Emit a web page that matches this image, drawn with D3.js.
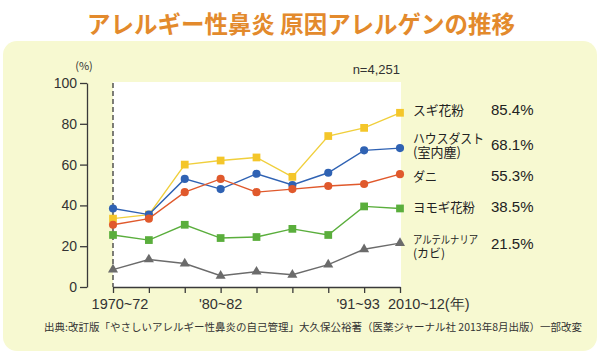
<!DOCTYPE html>
<html>
<head>
<meta charset="utf-8">
<script src="https://cdn.jsdelivr.net/npm/d3@7"></script>
<style>
  body { margin: 0; background: #fff; }
  svg { display: block; font-family: "Noto Sans CJK JP", "Noto Sans", sans-serif; }
</style>
</head>
<body>
<svg id="chart"></svg>
<script>
// survey periods (9 surveys), only some are labelled
const periods = ["1970~72", "1973~75", "1976~78", "'80~82", "1983~85", "1986~88", "1989~90", "'91~93", "2010~12"];
const shownPeriods = ["1970~72", "'80~82", "'91~93", "2010~12"];
const yTicks = [0, 20, 40, 60, 80, 100];

const seriesNames = ["スギ花粉", "ハウスダスト", "ダニ", "ヨモギ花粉", "アルテルナリア"];
const sugi    = [33.5, 35.5, 60, 62, 63.5, 54, 74, 78, 85.4];
const house   = [38.5, 35.5, 53, 48, 55.5, 50, 56, 67, 68.1];
const dani    = [30.5, 33.5, 46.5, 53, 46.5, 48, 49.5, 50.5, 55.3];
const yomogi  = [25.5, 23, 30.5, 24, 24.5, 28.5, 25.5, 39.5, 38.5];
const alter   = [8.5, 13.5, 11.5, 5.5, 7.5, 6, 11, 18.5, 21.5];
const latestText = ["85.4%", "68.1%", "55.3%", "38.5%", "21.5%"];

const W = 600, H = 354;
const svg = d3.select("#chart").attr("width", W).attr("height", H);

// page panel
svg.append("rect")
  .attr("x", 3).attr("y", 41).attr("width", 594).attr("height", 310)
  .attr("rx", 14).attr("fill", "#f7f9d1");

svg.append("text")
  .attr("x", 301).attr("y", 33)
  .attr("text-anchor", "middle")
  .attr("font-size", 24).attr("font-weight", "bold")
  .attr("fill", "#e38a2c")
  .attr("textLength", 428).attr("lengthAdjust", "spacingAndGlyphs")
  .text("アレルギー性鼻炎 原因アレルゲンの推移");

const x = d3.scalePoint().domain(periods).range([113, 400]);
const y = d3.scaleLinear().domain([0, 100]).range([287, 83]);

// white plot area
svg.append("rect")
  .attr("x", x(periods[0])).attr("y", y(100) - 1)
  .attr("width", x(periods[8]) - x(periods[0]) + 1)
  .attr("height", y(0) - y(100) + 1)
  .attr("fill", "#fff");

const axisCol = "#3a3a3a";

const yAxis = svg.append("g")
  .attr("transform", "translate(87,0)")
  .call(d3.axisLeft(y).tickValues(yTicks).tickSize(7).tickSizeOuter(0).tickPadding(3));
yAxis.select(".domain").attr("stroke", axisCol).attr("stroke-width", 1.3);
yAxis.selectAll(".tick line").attr("stroke", axisCol).attr("stroke-width", 1.3);
yAxis.selectAll(".tick text")
  .attr("font-family", "Liberation Sans, Arial, sans-serif")
  .attr("font-size", 14).attr("fill", "#333");

svg.append("text")
  .attr("x", 84).attr("y", 70)
  .attr("text-anchor", "middle")
  .attr("font-size", 11).attr("fill", "#333")
  .text("(%)");

const xAxis = svg.append("g")
  .attr("transform", "translate(0," + y(0) + ")")
  .call(d3.axisBottom(x).tickSize(6).tickSizeOuter(0).tickFormat(""));
xAxis.select(".domain").attr("stroke", axisCol).attr("stroke-width", 1.3);
xAxis.selectAll(".tick line").attr("stroke", axisCol).attr("stroke-width", 1.3);

// dashed line at the first survey
svg.append("line")
  .attr("x1", x(periods[0])).attr("x2", x(periods[0]))
  .attr("y1", y(100)).attr("y2", y(0))
  .attr("stroke", axisCol).attr("stroke-width", 1.3)
  .attr("stroke-dasharray", "5,3");

// period labels
const labelShift = { "1970~72": 7, "'80~82": 0, "'91~93": -6 };
svg.selectAll(".plabel")
  .data(shownPeriods).enter()
  .append("text")
  .attr("class", "plabel")
  .attr("x", d => d === "2010~12" ? x(d) - 12 : x(d) + labelShift[d])
  .attr("y", 309)
  .attr("text-anchor", d => d === "2010~12" ? "start" : "middle")
  .attr("font-family", "Liberation Sans, Arial, sans-serif")
  .attr("font-size", 14.5).attr("fill", "#333")
  .text(d => d === "2010~12" ? d + "(年)" : d);

svg.append("text")
  .attr("x", 400).attr("y", 74)
  .attr("text-anchor", "end")
  .attr("font-family", "Liberation Sans, Arial, sans-serif")
  .attr("font-size", 13).attr("fill", "#333")
  .text("n=4,251");

const series = [
  { name: seriesNames[0], values: sugi,   color: "#f0cf3c", fill: "#f4c62a", shape: "square" },
  { name: seriesNames[1], values: house,  color: "#2f62b3", fill: "#2f62b3", shape: "circle" },
  { name: seriesNames[2], values: dani,   color: "#e0592c", fill: "#e0592c", shape: "circle" },
  { name: seriesNames[3], values: yomogi, color: "#5aae3c", fill: "#5aae3c", shape: "square" },
  { name: seriesNames[4], values: alter,  color: "#6b6b6b", fill: "#6b6b6b", shape: "triangle" }
];

const line = d3.line().x((d, i) => x(periods[i])).y(d => y(d));
const symbolType = { square: d3.symbolSquare, circle: d3.symbolCircle, triangle: d3.symbolTriangle };
const symbolSize = { square: 60, circle: 52, triangle: 44 };

series.forEach(s => {
  svg.append("path")
    .datum(s.values)
    .attr("d", line)
    .attr("fill", "none")
    .attr("stroke", s.color)
    .attr("stroke-width", 1.4);
  svg.selectAll(null)
    .data(s.values).enter()
    .append("path")
    .attr("d", d3.symbol().type(symbolType[s.shape]).size(symbolSize[s.shape]))
    .attr("transform", (d, i) => "translate(" + x(periods[i]) + "," + y(d) + ")")
    .attr("fill", s.fill);
});

// legend at the right: [text, width] (width null = natural)
const legendLines = [
  [["スギ花粉", 51]],
  [["ハウスダスト", 71], ["(室内塵)", null]],
  [["ダニ", 24]],
  [["ヨモギ花粉", 62]],
  [["アルテルナリア", 65], ["(カビ)", null]]
];
const legendY = [115, 150, 181, 212, 251];
legendLines.forEach((lines, k) => {
  const small = k === 4;
  const fs = small ? 11 : 13;
  const gap = small ? 13.5 : 14.5;
  const t = svg.append("text")
    .attr("font-size", fs).attr("fill", "#222");
  lines.forEach(([ln, w], j) => {
    const ts = t.append("tspan")
      .attr("x", 413)
      .attr("y", legendY[k] + (lines.length > 1 ? (j - 0.5) * gap : 0))
      .text(ln);
    if (small && j === 1) ts.attr("font-size", 12);
    if (w) ts.attr("textLength", w).attr("lengthAdjust", "spacingAndGlyphs");
  });
  svg.append("text")
    .attr("x", 491).attr("y", k === 4 ? 249 : legendY[k])
    .attr("font-family", "Liberation Sans, Arial, sans-serif")
    .attr("font-size", 15).attr("fill", "#222")
    .text(latestText[k]);
});

svg.append("text")
  .attr("x", 313).attr("y", 331)
  .attr("text-anchor", "middle")
  .attr("font-size", 10.5).attr("fill", "#333")
  .attr("textLength", 538).attr("lengthAdjust", "spacingAndGlyphs")
  .text("出典:改訂版「やさしいアレルギー性鼻炎の自己管理」大久保公裕著（医薬ジャーナル社 2013年8月出版）一部改変");
</script>
</body>
</html>
